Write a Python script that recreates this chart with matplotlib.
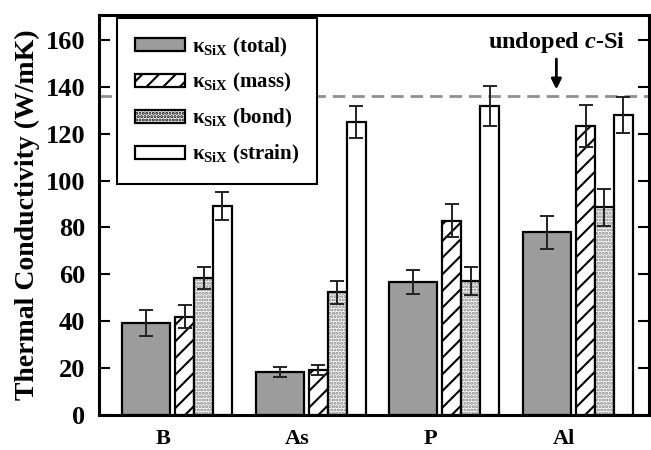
import matplotlib
matplotlib.use('Agg')
import matplotlib.pyplot as plt
import numpy as np

# data
dopants = ['B', 'As', 'P', 'Al']
k_total = [39.4, 18.3, 56.6, 77.9]
k_mass = [41.9, 19.2, 82.9, 123.3]
k_bond = [58.3, 52.3, 57.2, 88.6]
k_strain = [89.3, 125.0, 131.8, 128.0]
err_total = [5.5, 2.2, 5.2, 7.0]
err_mass = [5.0, 2.0, 7.0, 9.0]
err_bond = [4.7, 5.0, 6.0, 8.0]
err_strain = [6.0, 7.0, 8.5, 7.7]
k_undoped = 136.2

plt.rcParams['font.family'] = 'Liberation Serif'
plt.rcParams['font.weight'] = 'bold'
plt.rcParams['mathtext.fontset'] = 'custom'
plt.rcParams['mathtext.rm'] = 'Liberation Serif'
plt.rcParams['mathtext.it'] = 'Liberation Serif:italic:bold'
plt.rcParams['mathtext.bf'] = 'Liberation Serif:bold'
plt.rcParams['hatch.linewidth'] = 1.5

fig = plt.figure(figsize=(6.51, 4.5), dpi=100)
ax = fig.add_axes([99/651, 35/450, 550/651, 400/450])

x = np.arange(len(dopants))
w_wide = 0.36
w_narrow = 0.142
gap = 0.037
ekw = dict(ecolor='#222222', elinewidth=1.4, capsize=4.7, capthick=1.4)

ax.bar(x, k_total, w_wide, align='edge', color='#9c9c9c', edgecolor='black',
       linewidth=1.6, yerr=err_total, error_kw=ekw, label=r'$\mathrm{\kappa_{SiX}}$ (total)')
xm = x + w_wide + gap
ax.bar(xm, k_mass, w_narrow, align='edge', color='white', edgecolor='black',
       linewidth=1.6, hatch='//', yerr=err_mass, error_kw=ekw, label=r'$\mathrm{\kappa_{SiX}}$ (mass)')
xb = xm + w_narrow
# stipple drawn in grey, outline on top in black
ax.bar(xb, k_bond, w_narrow, align='edge', color='white', edgecolor='#808080',
       linewidth=0, hatch='.....')
ax.bar(xb, k_bond, w_narrow, align='edge', fill=False, edgecolor='black',
       linewidth=1.6, yerr=err_bond, error_kw=ekw)
xs = xb + w_narrow
ax.bar(xs, k_strain, w_narrow, align='edge', color='white', edgecolor='black',
       linewidth=1.6, yerr=err_strain, error_kw=ekw, label=r'$\mathrm{\kappa_{SiX}}$ (strain)')

ax.axhline(k_undoped, color='#8f8f8f', lw=2, dashes=(4.5, 2.5), zorder=0.5)
ax.annotate('', xy=(3.25, k_undoped + 1.5), xytext=(3.25, 153),
            arrowprops=dict(arrowstyle='-|>', color='black', lw=2, mutation_scale=15))
ax.text(3.25, 159, r'undoped $c$-Si', ha='center', va='center', fontsize=17.5, fontweight='bold')

ax.set_xlim(-0.172, 3.943)
ax.set_ylim(0, 170.6)
ax.set_yticks(np.arange(0, 161, 20))
ax.set_xticks(x + 0.31)
ax.set_xticklabels(dopants, fontsize=16, fontweight='bold')
ax.tick_params(axis='x', length=0, pad=10)
ax.tick_params(axis='y', direction='in', length=8, width=1.5, right=True, labelsize=19, pad=10)
for lab in ax.get_yticklabels():
    lab.set_fontweight('bold')
ax.set_ylabel('Thermal Conductivity (W/mK)', fontsize=20, fontweight='bold', labelpad=4)
for s in ax.spines.values():
    s.set_linewidth(2.2)

# legend with the stippled patch for the bond entry
handles, labels = ax.get_legend_handles_labels()
bond_patch = matplotlib.patches.Patch(facecolor='white', edgecolor='black', hatch='.....',
                                      linewidth=1.6)
handles.insert(2, bond_patch)
labels.insert(2, r'$\mathrm{\kappa_{SiX}}$ (bond)')
leg = ax.legend(handles, labels, loc='upper left', bbox_to_anchor=(0.033, 0.993), borderaxespad=0,
                fontsize=15, fancybox=False, edgecolor='black', framealpha=1,
                handlelength=2.4, handleheight=0.6, labelspacing=0.62,
                handletextpad=0.35, borderpad=0.85)
leg.get_frame().set_linewidth(1.5)

fig.savefig('out.png', dpi=100)
